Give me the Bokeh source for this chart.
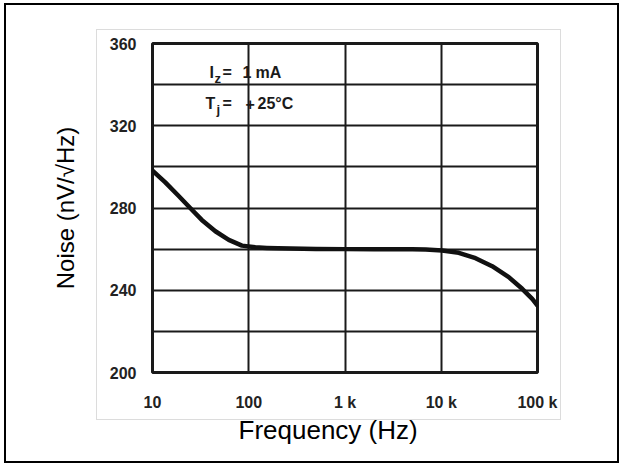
from bokeh.plotting import figure
from bokeh.models import Range1d, FixedTicker, Label, Title
from bokeh.embed import file_html
from bokeh.resources import INLINE

# ---- data ----
freq_hz = [10, 13.5, 18.5, 24.5, 32.5, 45, 62, 85, 117, 154, 200, 500, 1000,
           2000, 5000, 6900, 10200, 15200, 22700, 33800, 50300, 69300, 88100,
           100000]
noise_nv = [298.2, 292.6, 286.1, 280.1, 274.2, 268.7, 264.5, 261.7, 260.9, 260.6,
            260.4, 260.1, 260.0, 260.0, 259.9, 259.8, 259.3, 258.2, 255.6, 251.7,
            246.4, 240.7, 235.8, 232.6]

x_ticks = [10, 100, 1000, 10000, 100000]
x_tick_labels = ["10", "100", "1 k", "10 k", "100 k"]
y_major_ticks = [200, 240, 280, 320, 360]
y_minor_ticks = [220, 260, 300, 340]

FONT = "Liberation Sans"
INK = "#1a1a1a"
SCAN_EDGE = "#dcdcdc"

p = figure(width=611, height=456, x_axis_type="log",
           x_range=Range1d(10, 100000), y_range=Range1d(200, 360),
           output_backend="svg", toolbar_location=None,
           min_border_left=146, min_border_right=80,
           min_border_top=38, min_border_bottom=89)
p.margin = (5, 0, 0, 6)
# outer black frame plus the faint edge of the scanned chart behind the canvas
g = f"linear-gradient({SCAN_EDGE},{SCAN_EDGE})"
p.styles = {
    "outline": "2px solid black",
    "background-color": "white",
    "background-image": ", ".join([g] * 4),
    "background-repeat": "no-repeat",
    "background-position": "90px 24px, 90px 414px, 90px 24px, 554px 24px",
    "background-size": "465px 1px, 465px 1px, 1px 391px, 1px 391px",
}
p.background_fill_color = "white"
p.border_fill_color = None
p.outline_line_color = INK
p.outline_line_width = 3

# axes
p.xaxis.ticker = FixedTicker(ticks=x_ticks)
p.xaxis.major_label_overrides = dict(zip(x_ticks, x_tick_labels))
p.yaxis.ticker = FixedTicker(ticks=y_major_ticks, minor_ticks=y_minor_ticks)
for ax in (p.xaxis, p.yaxis):
    ax.axis_line_color = None
    ax.major_tick_line_color = None
    ax.minor_tick_line_color = None
    ax.major_tick_out = 0
    ax.major_tick_in = 0
    ax.minor_tick_out = 0
    ax.major_label_text_font = FONT
    ax.major_label_text_font_size = "16px"
    ax.major_label_text_font_style = "bold"
    ax.major_label_text_color = "#222222"
    ax.axis_label_text_font = FONT
    ax.axis_label_text_font_style = "normal"
    ax.axis_label_text_color = "black"
p.yaxis.major_label_standoff = 16
p.xaxis.major_label_standoff = 21
p.yaxis.axis_label = "Noise (nV/\u221aHz)"
p.yaxis.axis_label_text_font_size = "24px"
p.yaxis.axis_label_standoff = 28

# x-axis title, shifted left of the frame centre as in the reference
p.add_layout(Title(text="Frequency (Hz)", align="left", offset=86,
                   vertical_align="top", standoff=2, text_font=FONT,
                   text_font_size="26px", text_font_style="normal",
                   text_color="black"), "below")

# grid
p.xgrid.grid_line_color = INK
p.xgrid.grid_line_width = 2
p.ygrid.grid_line_color = INK
p.ygrid.grid_line_width = 2
p.ygrid.minor_grid_line_color = INK
p.ygrid.minor_grid_line_width = 2

# curve
p.line(freq_hz, noise_nv, line_color="#111111", line_width=4.5,
       line_join="round", line_cap="round")

# condition annotations
def note(x, y, t, size="16px"):
    p.add_layout(Label(x=x, y=y, text=t, text_font=FONT, text_font_size=size,
                       text_font_style="bold", text_color="#1a1a1a",
                       text_align="left", text_baseline="middle"))

note(39.1, 345.9, "I")
note(44.1, 343.0, "z", "13px")
note(53.3, 345.9, "=")
note(86.1, 345.9, "1")
note(117.5, 345.9, "mA")
note(35.5, 330.8, "T")
note(46.2, 327.9, "j", "13px")
note(53.3, 330.8, "=")
note(92.5, 330.8, "+")
note(123.3, 330.8, "25\u00b0C")

open("out.html", "w").write(file_html(p, INLINE))
